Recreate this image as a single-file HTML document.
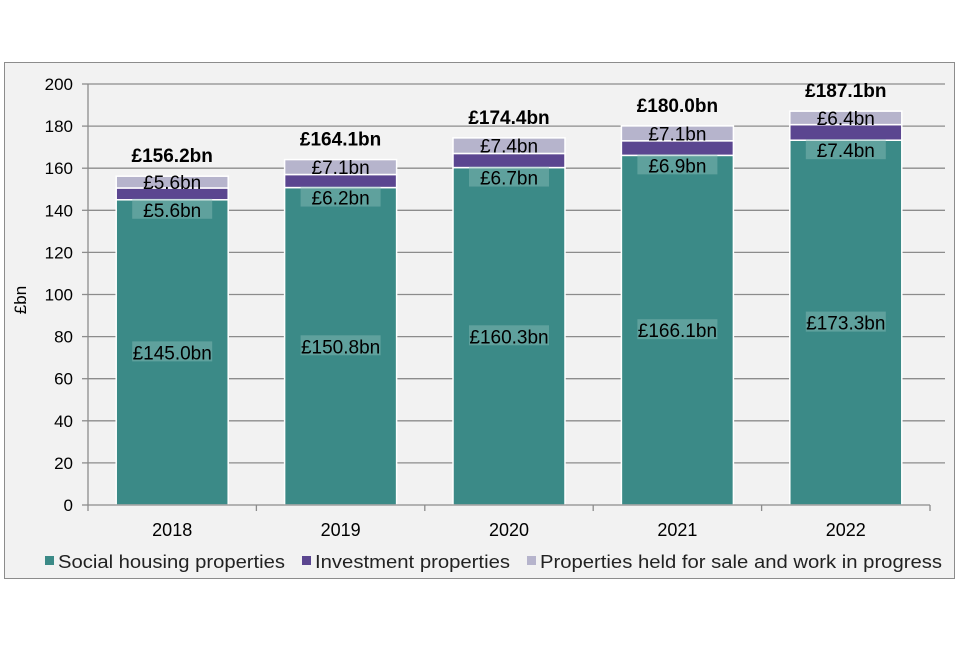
<!DOCTYPE html>
<html><head><meta charset="utf-8"><style>
body{margin:0;background:#fff;}
svg text{font-family:"Liberation Sans",Arial,sans-serif;}
</style></head><body>
<svg width="960" height="640" xmlns="http://www.w3.org/2000/svg">
<rect x="4.5" y="62.5" width="950" height="516" fill="#f2f2f2" stroke="#8c8c8c"/>
<g id="grid"></g><g id="bars"></g><g id="labels"></g><g id="axes"></g>
<text x="26" y="300" font-size="17" transform="rotate(-90 26 300)" text-anchor="middle" fill="#000">£bn</text>
<g>
<rect x="45" y="556" width="9" height="9" fill="#3b8a87"/>
<text x="58" y="568" font-size="18" textLength="227" lengthAdjust="spacingAndGlyphs" fill="#222">Social housing properties</text>
<rect x="302" y="556" width="9" height="9" fill="#5b4690"/>
<text x="315" y="568" font-size="18" textLength="195" lengthAdjust="spacingAndGlyphs" fill="#222">Investment properties</text>
<rect x="527" y="556" width="9" height="9" fill="#b6b4cc"/>
<text x="540" y="568" font-size="18" textLength="402" lengthAdjust="spacingAndGlyphs" fill="#222">Properties held for sale and work in progress</text>
</g>
</svg>
<script>
const categories=["2018","2019","2020","2021","2022"];
const social=[145.0,150.8,160.3,166.1,173.3];
const investment=[5.6,6.2,6.7,6.9,7.4];
const held=[5.6,7.1,7.4,7.1,6.4];
const totals=[156.2,164.1,174.4,180.0,187.1];
const yTicks=[0,20,40,60,80,100,120,140,160,180,200];
const NS="http://www.w3.org/2000/svg";
const x0=88,x1=930,yb=505,yt=84,ymax=200;
const y=v=>yb-(v/ymax)*(yb-yt);
const bw=(x1-x0)/categories.length;
const xc=i=>x0+bw*(i+0.5);
function mk(tag,at,parent){const e=document.createElementNS(NS,tag);for(const k in at)e.setAttribute(k,at[k]);document.getElementById(parent).appendChild(e);return e;}
yTicks.forEach(t=>{
 if(t>0){const g=mk('line',{x1:x0,x2:x1+15,y1:y(t),y2:y(t),stroke:'#8c8c8c','stroke-width':1.3},'grid');
 
 }
 const tk=mk('line',{x1:x0-6,x2:x0,y1:y(t),y2:y(t),stroke:'#8c8c8c','stroke-width':1.3},'axes');
 
 
 const tl=mk('text',{x:x0-15,y:y(t)+6,'font-size':17,'text-anchor':'end',fill:'#000'},'axes');tl.textContent=t;
 
 
});
const ax=mk('line',{x1:x0,x2:x0,y1:yt,y2:yb,stroke:'#8c8c8c','stroke-width':1.3},'axes');


const xa=mk('line',{x1:x0,x2:x1,y1:yb,y2:yb,stroke:'#8c8c8c','stroke-width':1.3},'axes');


for(let i=0;i<=categories.length;i++){const t=mk('line',{x1:x0+bw*i,x2:x0+bw*i,y1:yb,y2:yb+6,stroke:'#8c8c8c','stroke-width':1.3},'axes');
 
 }
const w=112;
function lbl(txt,cx,cy,size,bold,bg){
 if(bg){const r=mk('rect',{x:cx-40,y:cy-11,width:80,height:20,fill:bg,opacity:0.45},'labels');
 
 }
 const t=mk('text',{x:cx,y:cy+7,'font-size':size,'text-anchor':'middle',fill:'#000','font-weight':bold?'bold':'normal'},'labels');t.textContent=txt;
 
 
}
categories.forEach((c,i)=>{
 const cx=xc(i),l=cx-w/2;
 const s1=social[i],s2=s1+investment[i],s3=s2+held[i];
 const r1=mk('rect',{x:l,y:y(s1),width:w,height:y(0)-y(s1),fill:'#3b8a87',stroke:'#fff','stroke-width':1.5},'bars');
 
 
 const r2=mk('rect',{x:l,y:y(s2),width:w,height:y(s1)-y(s2),fill:'#5b4690',stroke:'#fff','stroke-width':1.5},'bars');
 
 
 const r3=mk('rect',{x:l,y:y(s3),width:w,height:y(s2)-y(s3),fill:'#b6b4cc',stroke:'#fff','stroke-width':1.5},'bars');
 
 
 lbl('£'+social[i].toFixed(1)+'bn',cx,y(s1/2),19,false,'#8cbcb9');
 lbl('£'+investment[i].toFixed(1)+'bn',cx,y(s1)+10,19,false,'#8cbcb9');
 lbl('£'+held[i].toFixed(1)+'bn',cx,y((s2+s3)/2),19,false,null);
 lbl('£'+totals[i].toFixed(1)+'bn',cx,y(s3)-21,19,true,null);
 const xl=mk('text',{x:cx,y:yb+31,'font-size':18,'text-anchor':'middle',fill:'#000'},'axes');xl.textContent=c;
 
 
});
</script>
</body></html>
